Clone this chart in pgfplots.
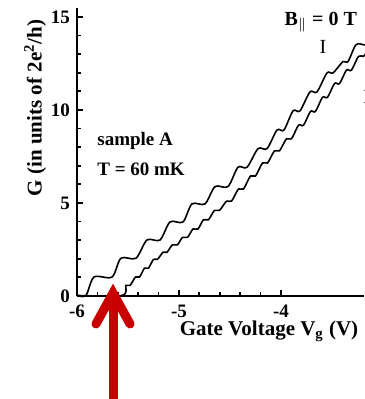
\documentclass[border=0pt]{standalone}
\usepackage{fontspec}
\setmainfont{Liberation Serif}
\usepackage{pgfplots}
\pgfplotsset{compat=1.18}
\definecolor{arrowred}{RGB}{200,0,0}
\begin{document}
\begin{tikzpicture}
\begin{axis}[
  at={(0,0)}, anchor=south west,
  scale only axis, width=143.5pt, height=144pt,
  xmin=-6, xmax=-3.186, ymin=0, ymax=15.48,
  axis lines*=left,
  axis line style={line width=1.2pt},
  xtick={-6,-5,-4}, xticklabels={-6,-5,-4},
  ytick={0,5,10,15}, yticklabels={0,5,10,15},
  minor x tick num=4, minor y tick num=4,
  tick align=inside,
  major tick length=3pt, minor tick length=2pt,
  tick style={black, line width=0.9pt},
  tick label style={font=\fontsize{9.5}{11}\selectfont\bfseries},
  xticklabel style={yshift=-0.8pt},
  xlabel={Gate Voltage V\textsubscript{g} (V)},
  ylabel={G (in units of 2e\textsuperscript{2}/h)},
  label style={font=\fontsize{10.5}{12}\selectfont\bfseries},
  xlabel style={at={(axis description cs:0.669,0)}, anchor=center, yshift=-17.5pt},
  ylabel style={at={(axis description cs:-0.146,0.653)}, anchor=center},
  clip=false,
]
\coordinate (O) at (axis cs:-6,0);
\addplot[black, line width=0.8pt, smooth, tension=0.5] coordinates {
(-6.000,0.03) (-5.912,0.03) (-5.833,1.02) (-5.657,1.02) (-5.569,2.03) (-5.422,2.03)
(-5.314,3.01) (-5.186,3.01) (-5.088,3.98) (-4.961,3.98) (-4.873,4.95) (-4.745,4.95)
(-4.647,5.88) (-4.520,5.88) (-4.422,6.92) (-4.333,6.92) (-4.225,7.92) (-4.137,7.92)
(-4.039,8.92) (-3.971,8.92) (-3.882,9.95) (-3.814,9.95) (-3.716,10.97) (-3.647,10.97)
(-3.549,11.99) (-3.490,11.99) (-3.392,12.6) (-3.343,12.6) (-3.265,13.5) (-3.186,13.5) (-3.15,13.5)
};
\addplot[black, line width=0.8pt, smooth, tension=0.5] coordinates {
(-6.000,0.03) (-5.559,0.03) (-5.520,0.57) (-5.480,0.57) (-5.426,1.02) (-5.387,1.02)
(-5.338,1.50) (-5.299,1.50) (-5.250,1.97) (-5.211,1.97) (-5.157,2.35) (-5.118,2.35)
(-5.064,2.75) (-5.015,2.75) (-4.966,3.15) (-4.917,3.15) (-4.863,3.60) (-4.814,3.60)
(-4.760,4.10) (-4.711,4.10) (-4.652,4.60) (-4.603,4.60) (-4.534,5.10) (-4.485,5.10)
(-4.417,5.75) (-4.368,5.75) (-4.299,6.45) (-4.250,6.45) (-4.181,7.15) (-4.132,7.15)
(-4.064,7.80) (-4.015,7.80) (-3.946,8.45) (-3.897,8.45) (-3.828,9.18) (-3.779,9.18)
(-3.711,9.92) (-3.662,9.92) (-3.593,10.68) (-3.544,10.68) (-3.475,11.42) (-3.426,11.42)
(-3.358,12.14) (-3.309,12.14) (-3.240,12.88) (-3.191,12.88) (-3.15,13.2)
};
\node[anchor=west, inner sep=0, font=\fontsize{9.5}{11}\selectfont\bfseries] at (axis cs:-5.804,8.33) {sample A};
\node[anchor=west, inner sep=0, font=\fontsize{9.5}{11}\selectfont\bfseries] at (axis cs:-5.804,6.83) {T = 60 mK};
\node[inner sep=0, font=\fontsize{10}{12}\selectfont\bfseries] at (axis cs:-3.61,14.73) {B\textsubscript{$\|$} = 0 T};
\node[inner sep=0, font=\fontsize{10}{12}\selectfont] at (axis cs:-3.588,13.39) {I};
\node[anchor=west, inner sep=0, font=\fontsize{10}{12}\selectfont] at (axis cs:-3.199,10.7) {II};
\draw[arrowred, line width=4.5pt] (axis cs:-5.647,0.16) -- (axis cs:-5.647,-6.7);
\draw[arrowred, line width=4.5pt, line cap=round, line join=miter] (axis cs:-5.814,-1.505) -- (axis cs:-5.647,0.16) -- (axis cs:-5.480,-1.505);
\end{axis}
\pgfresetboundingbox
\path[use as bounding box] (O) ++(-38.5pt,-51.5pt) rectangle ++(182pt,199.5pt);
\end{tikzpicture}
\end{document}
